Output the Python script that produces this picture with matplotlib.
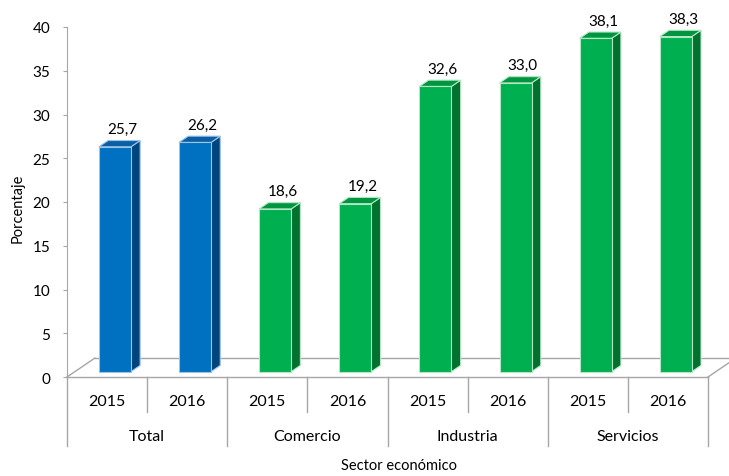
import matplotlib.pyplot as plt
from matplotlib.patches import Polygon

plt.rcParams['font.family'] = ['Lato', 'DejaVu Sans']

groups = ['Total', 'Comercio', 'Industria', 'Servicios']
years = ['2015', '2016']
total = [25.7, 26.2]
comercio = [18.6, 19.2]
industria = [32.6, 33.0]
servicios = [38.1, 38.3]
series = [total, comercio, industria, servicios]

# face colours: front, top, side, edge
blue = ('#0070C0', '#0A5EA6', '#00447E', '#9cc3e6')
green = ('#00B050', '#00953F', '#00722E', '#b4e6c4')
group_colors = [blue, green, green, green]

W, H = 729, 477
fig = plt.figure(figsize=(W / 100, H / 100), dpi=100)
left, right, top, bottom = 67, 708, 28, 378
ax = fig.add_axes([left / W, 1 - bottom / H, (right - left) / W, (bottom - top) / H])
n = len(groups) * len(years)
ax.set_xlim(0, n)
ax.set_ylim(0, 40)

# pixel -> data scales, for the fake 3d depth
sx = (right - left) / n
sy = (bottom - top) / 40
Dx, Dy = 28 / sx, 19 / sy      # floor depth
f0, fd = 0.28, 0.33            # bar front position and bar depth (fraction of floor)
bw = 32 / sx

floor = '#a6a6a6'
ax.plot([0, n], [0, 0], color=floor, lw=1, clip_on=False)
ax.plot([0, Dx], [0, Dy], color=floor, lw=1, clip_on=False)
ax.plot([Dx, n + Dx], [Dy, Dy], color=floor, lw=1, clip_on=False)
ax.plot([n, n + Dx], [0, Dy], color=floor, lw=1, clip_on=False)

k = 0
for g, vals in enumerate(series):
    front, topc, side, edge = group_colors[g]
    for v in vals:
        x0 = k + 0.5 - bw / 2 + f0 * Dx
        y0 = f0 * Dy
        x1, y1 = x0 + bw, y0 + v
        ddx, ddy = fd * Dx, fd * Dy
        ax.add_patch(Polygon([(x1, y0), (x1 + ddx, y0 + ddy), (x1 + ddx, y1 + ddy), (x1, y1)],
                             closed=True, fc=side, ec=edge, lw=0.8, clip_on=False, zorder=3))
        ax.add_patch(Polygon([(x0, y1), (x1, y1), (x1 + ddx, y1 + ddy), (x0 + ddx, y1 + ddy)],
                             closed=True, fc=topc, ec=edge, lw=0.8, clip_on=False, zorder=3))
        ax.add_patch(Polygon([(x0, y0), (x1, y0), (x1, y1), (x0, y1)],
                             closed=True, fc=front, ec=edge, lw=0.8, clip_on=False, zorder=4))
        ax.text((x0 + x1) / 2 + 0.8 * ddx, y1 + ddy + 0.5, f"{v:.1f}".replace('.', ','),
                ha='center', va='bottom', fontsize=11, color='#000000')
        k += 1

# category axis below the floor
sep = '#a6a6a6'
for j in range(n + 1):
    low = -7.9 if j % 2 == 0 else -4.0
    ax.plot([j, j], [0, low], color=sep, lw=1, clip_on=False)
for j in range(n):
    ax.text(j + 0.5, -2.75, years[j % 2], ha='center', va='center', fontsize=11.5)
for g, name in enumerate(groups):
    ax.text(2 * g + 1, -6.75, name, ha='center', va='center', fontsize=11.5)
ax.text(4.14, -10.05, 'Sector económico', ha='center', va='center', fontsize=10.5)

for s in ['top', 'right', 'bottom']:
    ax.spines[s].set_visible(False)
ax.spines['left'].set_color(floor)
ax.set_xticks([])
ax.set_yticks(range(0, 41, 5))
ax.tick_params(axis='y', colors=floor, length=3, pad=9, labelsize=11, labelcolor='black')
fig.text(18 / W, 1 - 208 / H, 'Porcentaje', rotation=90, ha='center', va='center', fontsize=10.5)

fig.savefig('out.png', dpi=100)
